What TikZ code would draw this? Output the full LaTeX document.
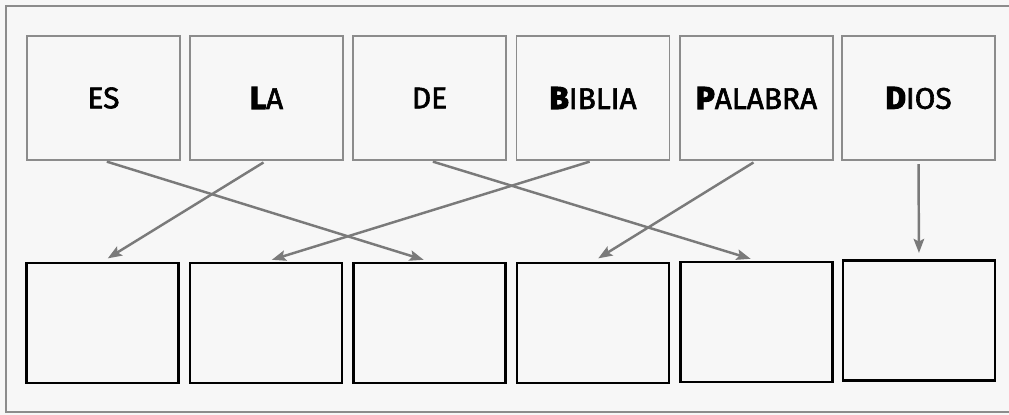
\documentclass[tikz,border=0pt]{standalone}
\usepackage{fontspec}
\setmainfont{Fira Sans}
\newfontfamily\wordfont[FakeBold=2]{Fira Sans}
\newfontfamily\heavyfont[FakeBold=3.5]{Fira Sans}
\usetikzlibrary{arrows.meta,positioning}
\definecolor{paper}{HTML}{F7F7F7}
\definecolor{framegray}{HTML}{8C8C8C}
\definecolor{linkgray}{HTML}{7A7A7A}
\newcommand{\heavy}[1]{{\heavyfont\bfseries\fontsize{18}{20}\selectfont #1}}
\tikzset{
    word/.style={draw=framegray, line width=0.7pt, minimum width=3.06cm, minimum height=2.48cm, inner sep=0pt, font=\wordfont\fontsize{17}{19}\selectfont},
    blank/.style={draw=black, line width=1.6pt, minimum width=3.04cm, minimum height=2.4cm, inner sep=0pt},
    link/.style={draw=linkgray, line width=1.4pt, -{Stealth[length=8pt,width=6pt,inset=1.5pt]}, shorten <=2pt, shorten >=3.5pt}
}

\begin{document}
\begin{tikzpicture}[x=0.02cm, y=-0.02cm]
    \useasboundingbox (0,0) rectangle (1009,415);
    \clip (0,0) rectangle (1009,415);
    \fill[paper] (0,0) rectangle (1009,415);
    \draw[framegray, line width=0.8pt] (1009,6) -- (6,6) -- (6,412) -- (1009,412);

    % words
    \node[word] (w1) at (103.5,98) {ES};
    \node[word] (w2) at (266.5,98) {\heavy{L}A};
    \node[word] (w3) at (429.5,98) {DE};
    \node[word] (w4) at (593,98) {\heavy{B}IBLIA};
    \node[word] (w5) at (756.5,98) {\heavy{P}ALABRA};
    \node[word] (w6) at (918.5,98) {\heavy{D}IOS};

    % empty boxes
    \node[blank] (b1) at (102.5,323) {};
    \node[blank] (b2) at (266,323) {};
    \node[blank] (b3) at (429.5,323) {};
    \node[blank] (b4) at (593,323) {};
    \node[blank] (b5) at (756.5,322) {};
    \node[blank] (b6) at (919,320.5) {};

    % order
    \draw[link] (w1.south) -- (b3.north);
    \draw[link] (w2.south) -- (b1.north);
    \draw[link] (w3.south) -- (b5.north);
    \draw[link] (w4.south) -- (b2.north);
    \draw[link] (w5.south) -- (b4.north);
    \draw[link] (w6.south) -- (b6.north);
\end{tikzpicture}
\end{document}
